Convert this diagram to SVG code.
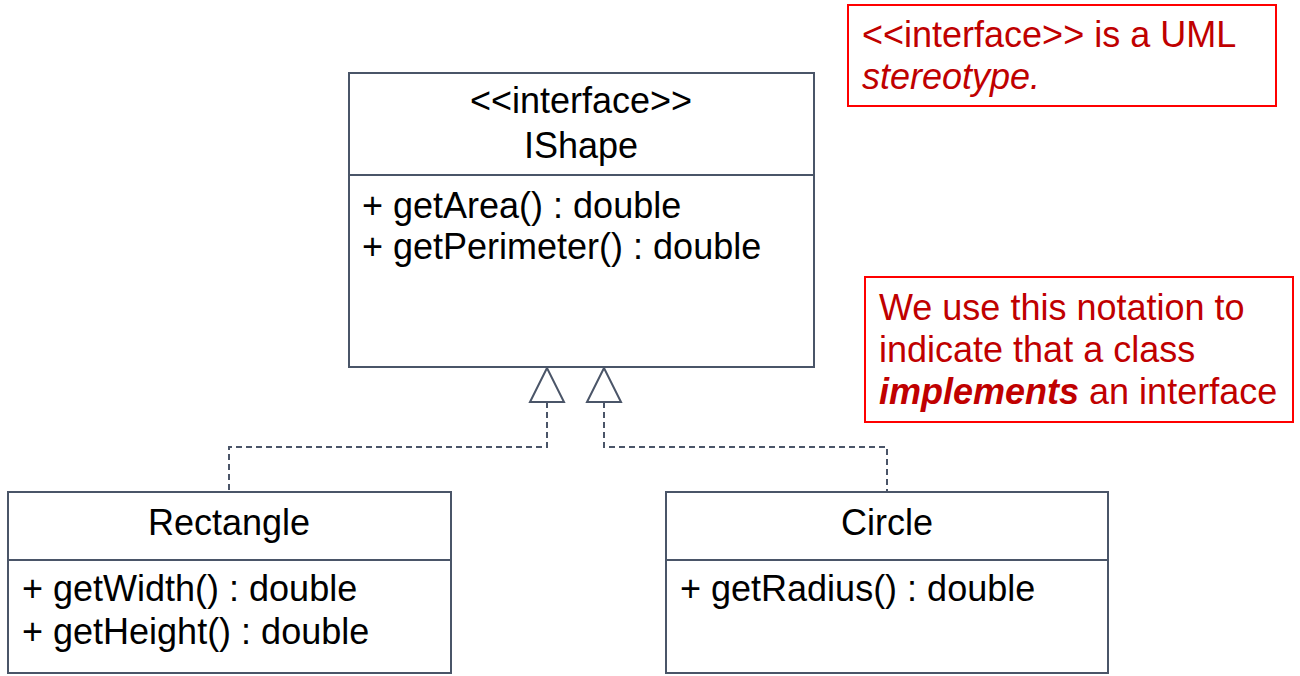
<svg xmlns="http://www.w3.org/2000/svg" width="1300" height="676" viewBox="0 0 1300 676">
<defs>
<style>
.box{fill:#ffffff;stroke:#4a5568;stroke-width:2}
.div{stroke:#4a5568;stroke-width:2}
.t{font-family:"Liberation Sans",Arial,sans-serif;font-size:36px;fill:#000000}
.c{text-anchor:middle}
.note{fill:#ffffff;stroke:#ff0000;stroke-width:2}
.nt{font-family:"Liberation Sans",Arial,sans-serif;font-size:36px;fill:#c00000}
.dash{fill:none;stroke:#4a5568;stroke-width:2;stroke-dasharray:6 4}
.tri{fill:#ffffff;stroke:#4a5568;stroke-width:2}
</style>
</defs>
<rect width="1300" height="676" fill="#ffffff"/>
<g id="connectors">
<polyline class="dash" points="547,402 547,447 229,447 229,492"/>
<polyline class="dash" points="604,402 604,447 887,447 887,492"/>
</g>
<g id="IShape">
<rect class="box" x="349" y="73" width="465" height="294"/>
<line class="div" x1="349" y1="175" x2="814" y2="175"/>
<text class="t c" x="581" y="113">&lt;&lt;interface&gt;&gt;</text>
<text class="t c" x="581" y="158">IShape</text>
<text class="t" x="362" y="218">+ getArea() : double</text>
<text class="t" x="362" y="259">+ getPerimeter() : double</text>
</g>
<g id="arrowheads">
<polygon class="tri" points="547,368 530,402 564,402"/>
<polygon class="tri" points="604,368 587,402 621,402"/>
</g>
<g id="Rectangle">
<rect class="box" x="8" y="492" width="443" height="181"/>
<line class="div" x1="8" y1="560" x2="451" y2="560"/>
<text class="t c" x="229" y="535">Rectangle</text>
<text class="t" x="22" y="601">+ getWidth() : double</text>
<text class="t" x="22" y="644">+ getHeight() : double</text>
</g>
<g id="Circle">
<rect class="box" x="666" y="492" width="442" height="181"/>
<line class="div" x1="666" y1="560" x2="1108" y2="560"/>
<text class="t c" x="887" y="535">Circle</text>
<text class="t" x="680" y="601">+ getRadius() : double</text>
</g>
<g id="note1">
<rect class="note" x="848" y="5" width="428" height="101"/>
<text class="nt" x="862" y="47">&lt;&lt;interface&gt;&gt; is a UML</text>
<text class="nt" x="862" y="89" font-style="italic">stereotype.</text>
</g>
<g id="note2">
<rect class="note" x="865" y="277" width="428" height="145"/>
<text class="nt" x="879" y="320">We use this notation to</text>
<text class="nt" x="879" y="362">indicate that a class</text>
<text class="nt" x="879" y="404"><tspan font-weight="bold" font-style="italic">implements</tspan> an interface</text>
</g>
</svg>
